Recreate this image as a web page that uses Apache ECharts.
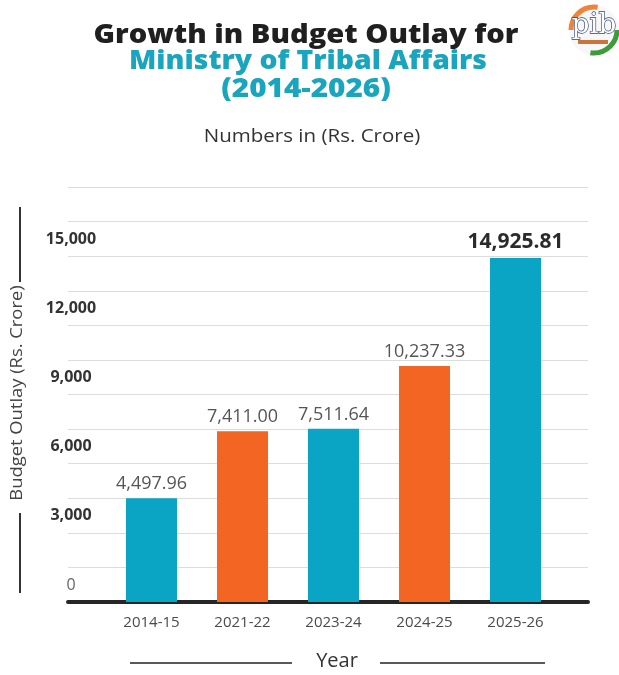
<!DOCTYPE html>
<html>
<head>
<meta charset="utf-8">
<script src="https://cdn.jsdelivr.net/npm/echarts@6/dist/echarts.min.js"></script>
<style>
html,body{margin:0;padding:0;background:#fff;}
#c{width:619px;height:675px;}
</style>
</head>
<body>
<div id="c"></div>
<script>
const categories = ['2014-15', '2021-22', '2023-24', '2024-25', '2025-26'];
const outlay = [4497.96, 7411.00, 7511.64, 10237.33, 14925.81];
const barColors = ['#0aa5c5', '#f26522', '#0aa5c5', '#f26522', '#0aa5c5'];
const yLabelValues = [0, 3000, 6000, 9000, 12000, 15000];

const FONT = '"Open Sans", "DejaVu Sans", sans-serif';
const chart = echarts.init(document.getElementById('c'));

function fmt2(v) {
  return v.toLocaleString('en-US', {minimumFractionDigits: 2, maximumFractionDigits: 2});
}

const lastIdx = outlay.length - 1;
const barData = outlay.map((v, i) => {
  const item = {value: v, itemStyle: {color: barColors[i]}};
  if (i === lastIdx) {
    item.label = {fontWeight: 'bold', fontSize: 21, color: '#2b2b2b'};
  }
  return item;
});

chart.setOption({
  animation: false,
  backgroundColor: '#ffffff',
  grid: [
    {left: 68, right: 31, top: 187, bottom: 73},
    {left: 106, right: 58, top: 187, bottom: 73}
  ],
  xAxis: [
    {
      gridIndex: 0, type: 'value', min: 0, max: 1,
      axisLine: {show: true, onZero: false, lineStyle: {color: '#262626', width: 4}},
      axisTick: {show: false}, axisLabel: {show: false}, splitLine: {show: false}
    },
    {
      gridIndex: 1, type: 'category', data: categories,
      axisLine: {show: false}, axisTick: {show: false},
      axisLabel: {color: '#4a4a4a', fontSize: 15, fontFamily: FONT, margin: 13}
    }
  ],
  yAxis: [
    {
      gridIndex: 0, type: 'value', min: 0, max: 18000, interval: 1500,
      axisLine: {show: false}, axisTick: {show: false},
      splitLine: {show: true, lineStyle: {color: '#dcdcdc', width: 1}},
      axisLabel: {
        color: '#333', fontSize: 16, fontWeight: 'bold', fontFamily: FONT,
        align: 'center', verticalAlign: 'bottom', margin: -3, padding: [0, 0, 9, 0],
        rich: {
          z: {color: '#666', fontSize: 16, fontWeight: 'normal', fontFamily: FONT}
        },
        formatter: function (v) {
          if (v === 0) return '{z|0}';
          return yLabelValues.indexOf(v) >= 0 ? v.toLocaleString('en-US') : '';
        }
      }
    },
    {
      gridIndex: 1, type: 'value', min: 0, max: 18000, interval: 1500,
      axisLine: {show: false}, axisTick: {show: false},
      splitLine: {show: false}, axisLabel: {show: false}
    }
  ],
  series: [{
    type: 'bar', xAxisIndex: 1, yAxisIndex: 1,
    barWidth: 51,
    data: barData,
    label: {
      show: true, position: 'top', distance: 5,
      color: '#555', fontSize: 18, fontFamily: FONT,
      formatter: function (p) { return fmt2(p.value); }
    }
  }],
  graphic: [
    {type: 'text', x: 306, y: 36, scaleX: 1.12, style: {text: 'Growth in Budget Outlay for', fill: '#1f1f1f', font: '800 26px ' + FONT, textAlign: 'center', textVerticalAlign: 'middle'}},
    {type: 'text', x: 308, y: 62, scaleX: 1.09, style: {text: 'Ministry of Tribal Affairs', fill: '#1aa5be', font: '800 26px ' + FONT, textAlign: 'center', textVerticalAlign: 'middle'}},
    {type: 'text', x: 306, y: 90, scaleX: 1.14, style: {text: '(2014-2026)', fill: '#1aa5be', font: '800 26px ' + FONT, textAlign: 'center', textVerticalAlign: 'middle'}},
    {type: 'text', x: 312, y: 137, scaleX: 1.14, style: {text: 'Numbers in (Rs. Crore)', fill: '#333', font: '18px ' + FONT, textAlign: 'center', textVerticalAlign: 'middle'}},
    // Y axis name
    {type: 'text', x: 17, y: 393, rotation: Math.PI / 2, scaleX: 1.08, style: {text: 'Budget Outlay (Rs. Crore)', fill: '#444', font: '17px ' + FONT, textAlign: 'center', textVerticalAlign: 'middle'}},
    {type: 'line', shape: {x1: 20, y1: 207, x2: 20, y2: 282}, style: {stroke: '#333', lineWidth: 2}},
    {type: 'line', shape: {x1: 20, y1: 513, x2: 20, y2: 593}, style: {stroke: '#333', lineWidth: 2}},
    // X axis name
    {type: 'text', x: 337, y: 661, style: {text: 'Year', fill: '#333', font: '20px ' + FONT, textAlign: 'center', textVerticalAlign: 'middle'}},
    {type: 'line', shape: {x1: 130, y1: 663, x2: 292, y2: 663}, style: {stroke: '#222', lineWidth: 1.5}},
    {type: 'line', shape: {x1: 380, y1: 663, x2: 545, y2: 663}, style: {stroke: '#222', lineWidth: 1.5}},
    // logo
    {type: 'circle', shape: {cx: 594, cy: 30, r: 25}, style: {fill: '#f7f7f7', stroke: null}},
    {type: 'arc', shape: {cx: 594, cy: 30, r: 23, startAngle: Math.PI * 1.0, endAngle: Math.PI * 1.55}, style: {stroke: '#f0823a', lineWidth: 5, fill: null}},
    {type: 'arc', shape: {cx: 594, cy: 30, r: 23, startAngle: 0, endAngle: Math.PI * 0.55}, style: {stroke: '#3f9a3c', lineWidth: 5, fill: null}},
    {type: 'text', x: 594, y: 26, style: {text: 'pib', fill: '#ffffff', stroke: '#2b3f73', lineWidth: 1.3, font: '28px "DejaVu Serif", serif', textAlign: 'center', textVerticalAlign: 'middle'}},
    {type: 'rect', shape: {x: 578, y: 40, width: 30, height: 4}, style: {fill: '#c8743a'}}
  ]
});
</script>
</body>
</html>
